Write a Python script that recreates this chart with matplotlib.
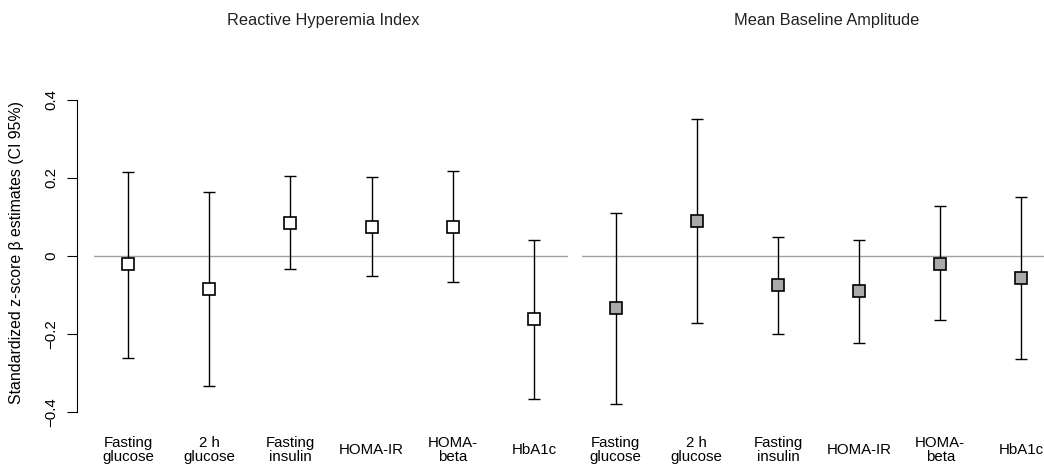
import numpy as np
import matplotlib.pyplot as plt

plt.rcParams['font.family'] = ['Liberation Sans', 'DejaVu Sans']

labels = ["Fasting\nglucose", "2 h\nglucose", "Fasting\ninsulin", "HOMA-IR", "HOMA-\nbeta", "HbA1c"]

rhi_est = [-0.022, -0.086, 0.084, 0.075, 0.075, -0.162]
rhi_low = [-0.261, -0.334, -0.035, -0.052, -0.067, -0.367]
rhi_high = [0.216, 0.163, 0.204, 0.202, 0.217, 0.040]

mba_est = [-0.133, 0.089, -0.076, -0.091, -0.020, -0.056]
mba_low = [-0.379, -0.172, -0.200, -0.224, -0.165, -0.264]
mba_high = [0.109, 0.350, 0.049, 0.041, 0.127, 0.152]

W, H = 1044, 469
fig = plt.figure(figsize=(W / 100, H / 100), dpi=100)

ax_bottom = (H - 411.7) / H
ax_height = 311.7 / H
ax_width = 474 / W
ax1 = fig.add_axes([94 / W, ax_bottom, ax_width, ax_height])
ax2 = fig.add_axes([581.5 / W, ax_bottom, ax_width, ax_height])

x = np.arange(1, 7)
panels = [
    (ax1, rhi_est, rhi_low, rhi_high, "white", "Reactive Hyperemia Index", 0.483),
    (ax2, mba_est, mba_low, mba_high, "#aaaaaa", "Mean Baseline Amplitude", 0.518),
]

for ax, est, low, high, fc, title, tx in panels:
    est = np.array(est)
    err = [est - np.array(low), np.array(high) - est]
    ax.axhline(0, color="#a0a0a0", lw=1, zorder=1)
    ax.errorbar(x, est, yerr=err, fmt="none", ecolor="black", elinewidth=1,
                capsize=4.3, capthick=1, zorder=2, clip_on=False)
    ax.plot(x, est, "s", ms=8, mfc=fc, mec="black", mew=1.2, zorder=3, clip_on=False)
    ax.set_xlim(0.58, 6.42)
    ax.set_ylim(-0.4, 0.4)
    for s in ["top", "right", "bottom"]:
        ax.spines[s].set_visible(False)
    ax.set_xticks(x)
    ax.set_xticklabels(labels, fontsize=10.8, linespacing=1.0)
    ax.tick_params(axis="x", length=0, pad=27.5)
    for lbl in ax.get_xticklabels():
        lbl.set_va("center")
    ax.text(tx, 1.2535, title, transform=ax.transAxes, ha="center", va="center",
            fontsize=11.8, color="#222222")

ax2.spines["left"].set_visible(False)
ax2.set_yticks([])

ax1.spines["left"].set_position(("outward", 12.2))
ax1.spines["left"].set_bounds(-0.4, 0.4)
ax1.set_yticks([-0.4, -0.2, 0, 0.2, 0.4])
ax1.set_yticklabels(["\u22120.4", "\u22120.2", "0", "0.2", "0.4"], rotation=90,
                    va="center", fontsize=10.8)
ax1.tick_params(axis="y", length=7.2, pad=6)

fig.text(17 / W, 1 - 252.5 / H, "Standardized z-score \u03b2 estimates (CI 95%)",
         rotation=90, ha="center", va="center", fontsize=11.4)

fig.savefig("out.png", dpi=100)
